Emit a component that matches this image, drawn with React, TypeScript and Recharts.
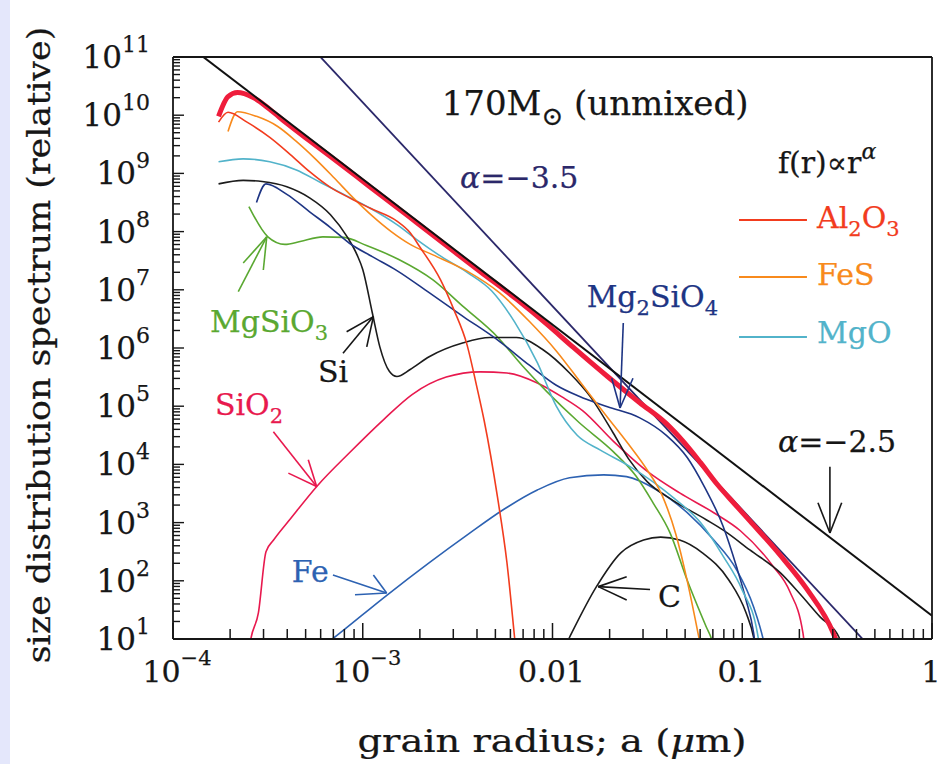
import React from 'react'
import { LineChart, Line, XAxis, YAxis, ReferenceLine, ReferenceDot } from 'recharts'

type Pt = [number, number]

// every point is [log10 a (µm), log10 f]
const totalDust: Pt[] = [
  [-3.76, 9.98], [-3.71, 10.32], [-3.66, 10.39], [-3.58, 10.31], [-3.49, 10.10], [-3.40, 9.86],
  [-3.28, 9.56], [-3.17, 9.29], [-3.03, 8.94], [-2.89, 8.59], [-2.75, 8.24], [-2.65, 7.99],
  [-2.52, 7.66], [-2.38, 7.31], [-2.19, 6.84], [-2.03, 6.41], [-1.89, 6.01], [-1.71, 5.51],
  [-1.54, 5.06], [-1.40, 4.70], [-1.31, 4.39], [-1.22, 4.03], [-1.13, 3.65], [-1.04, 3.32],
  [-0.96, 3.03], [-0.80, 2.44], [-0.66, 1.86], [-0.52, 1.10], [-0.49, 0.85],
]
const al2o3: Pt[] = [
  [-3.76, 9.88], [-3.71, 10.05], [-3.61, 9.88], [-3.49, 9.62], [-3.38, 9.32], [-3.28, 9.03],
  [-3.17, 8.76], [-3.07, 8.58], [-2.96, 8.40], [-2.82, 8.18], [-2.75, 7.98], [-2.70, 7.74],
  [-2.59, 7.17], [-2.52, 6.66], [-2.45, 6.05], [-2.40, 5.35], [-2.36, 4.75], [-2.29, 3.44],
  [-2.24, 2.31], [-2.20, 1.03], [-2.193, 0.80],
]
const fes: Pt[] = [
  [-3.71, 9.72], [-3.66, 10.06], [-3.56, 9.98], [-3.45, 9.81], [-3.35, 9.55], [-3.25, 9.25],
  [-3.15, 8.92], [-3.05, 8.58], [-2.95, 8.27], [-2.85, 8.00], [-2.75, 7.78], [-2.63, 7.60],
  [-2.45, 7.32], [-2.28, 6.95], [-2.12, 6.45], [-1.98, 5.95], [-1.85, 5.40], [-1.72, 4.85],
  [-1.60, 4.35], [-1.50, 3.90], [-1.42, 3.45], [-1.35, 2.80], [-1.29, 2.00], [-1.23, 1.05],
  [-1.215, 0.80],
]
const mgo: Pt[] = [
  [-3.76, 9.20], [-3.63, 9.25], [-3.49, 9.20], [-3.35, 9.06], [-3.22, 8.84], [-3.10, 8.64],
  [-2.96, 8.40], [-2.82, 8.12], [-2.71, 7.85], [-2.60, 7.60], [-2.45, 7.30], [-2.32, 6.98],
  [-2.20, 6.45], [-2.08, 5.75], [-1.98, 5.00], [-1.87, 4.50], [-1.75, 4.25], [-1.60, 3.98],
  [-1.47, 3.70], [-1.36, 3.42], [-1.22, 3.00], [-1.10, 2.42], [-1.00, 1.84], [-0.92, 1.10],
  [-0.905, 0.80],
]
const si: Pt[] = [
  [-3.76, 8.82], [-3.63, 8.88], [-3.53, 8.86], [-3.40, 8.77], [-3.28, 8.58], [-3.17, 8.29],
  [-3.08, 7.90], [-3.03, 7.60], [-3.00, 7.35], [-2.95, 6.61], [-2.91, 6.02], [-2.86, 5.60],
  [-2.82, 5.51], [-2.75, 5.63], [-2.65, 5.85], [-2.47, 6.09], [-2.33, 6.18], [-2.19, 6.18],
  [-2.05, 5.97], [-1.91, 5.57], [-1.80, 5.16], [-1.68, 4.54], [-1.60, 4.10], [-1.50, 3.70],
  [-1.37, 3.39], [-1.19, 3.05], [-1.10, 2.87], [-0.96, 2.53], [-0.80, 2.14], [-0.70, 1.79],
  [-0.59, 1.38], [-0.49, 1.03], [-0.47, 0.85],
]
const mg2sio4: Pt[] = [
  [-3.56, 8.50], [-3.51, 8.82], [-3.40, 8.64], [-3.28, 8.34], [-3.17, 8.07], [-3.07, 7.80],
  [-2.95, 7.57], [-2.82, 7.33], [-2.65, 6.95], [-2.47, 6.54], [-2.29, 6.14], [-2.12, 5.70],
  [-1.98, 5.36], [-1.86, 5.17], [-1.71, 4.99], [-1.54, 4.80], [-1.40, 4.50], [-1.29, 4.12],
  [-1.20, 3.62], [-1.10, 2.93], [-1.03, 2.24], [-0.98, 1.67], [-0.94, 1.10], [-0.93, 0.85],
]
const mgsio3: Pt[] = [
  [-3.60, 8.43], [-3.50, 7.91], [-3.41, 7.78], [-3.33, 7.83], [-3.21, 7.91], [-3.10, 7.90],
  [-2.98, 7.76], [-2.81, 7.52], [-2.63, 7.17], [-2.47, 6.71], [-2.29, 6.19], [-2.16, 5.70],
  [-2.03, 5.25], [-1.86, 4.72], [-1.68, 4.22], [-1.56, 3.80], [-1.47, 3.34], [-1.38, 2.82],
  [-1.29, 2.01], [-1.19, 1.21], [-1.16, 0.98], [-1.15, 0.85],
]
const sio2: Pt[] = [
  [-3.60, 0.80], [-3.59, 1.00], [-3.55, 1.45], [-3.51, 2.50], [-3.47, 2.70], [-3.38, 3.07],
  [-3.24, 3.63], [-3.07, 4.20], [-2.89, 4.77], [-2.74, 5.20], [-2.56, 5.50], [-2.38, 5.59],
  [-2.24, 5.57], [-2.08, 5.40], [-1.95, 5.16], [-1.84, 4.92], [-1.68, 4.40], [-1.50, 3.88],
  [-1.33, 3.51], [-1.15, 3.17], [-1.01, 2.86], [-0.84, 2.26], [-0.75, 1.82], [-0.68, 1.10],
  [-0.67, 0.85],
]
const fe: Pt[] = [
  [-3.24, 0.80], [-3.16, 1.00], [-2.87, 1.76], [-2.44, 2.81], [-2.26, 3.22], [-2.08, 3.56],
  [-1.91, 3.77], [-1.73, 3.82], [-1.61, 3.79], [-1.45, 3.56], [-1.29, 3.17], [-1.15, 2.70],
  [-1.03, 2.19], [-0.94, 1.55], [-0.89, 1.00], [-0.88, 0.85],
]
const carbon: Pt[] = [
  [-1.945, 0.80], [-1.91, 1.03], [-1.77, 1.89], [-1.64, 2.48], [-1.52, 2.70], [-1.43, 2.75],
  [-1.33, 2.70], [-1.21, 2.48], [-1.07, 2.01], [-0.98, 1.45], [-0.94, 1.03], [-0.93, 0.85],
]
const slope35: Pt[] = [[-3.3, 11.27], [-0.3, 0.77]]
const slope25: Pt[] = [[-4, 11.4], [0, 1.4]]

const xDecades = [-4, -3, -2, -1, 0]
const xTickText = [['10', '−4'], ['10', '−3'], ['0.01', ''], ['0.1', ''], ['1', '']]
const yDecades = [1, 2, 3, 4, 5, 6, 7, 8, 9, 10, 11]
const yTickExp = ['1', '2', '3', '4', '5', '6', '7', '8', '9', '10', '11']
const minorSteps = [2, 3, 4, 5, 6, 7, 8, 9]

const FONT = '"DejaVu Serif", "Liberation Serif", serif'
const INK = '#161616'

const C = {
  total: '#ef1d3c',
  al2o3: '#f23c1e',
  fes: '#f88a1c',
  mgo: '#52b3ca',
  si: '#1c1c1c',
  mg2sio4: '#1e3584',
  mgsio3: '#5aa831',
  sio2: '#e8194e',
  fe: '#2d62b2',
  carbon: '#1c1c1c',
  slope35: '#2b286a',
  slope25: '#111111',
}

const rows = (pts: Pt[]) => pts.map(([x, y]) => ({ x, y }))

const withMinors = (decades: number[]) =>
  [
    ...decades,
    ...decades.slice(0, -1).flatMap(d => minorSteps.map(k => d + Math.log10(k))),
  ].sort((a, b) => a - b)

const xTicks = withMinors(xDecades)
const yTicks = withMinors(yDecades)
const isMajor = (v: number) => Math.abs(v - Math.round(v)) < 1e-6

function Txt({ x, y, size = 30, fill = INK, anchor = 'start', sx = 1, rotate = 0, children }: any) {
  return (
    <g transform={`translate(${x},${y}) rotate(${rotate}) scale(${sx},1)`}>
      <text x={0} y={0} fontFamily={FONT} fontSize={size} fill={fill} textAnchor={anchor}
        stroke={fill} strokeWidth={0.25}>
        {children}
      </text>
    </g>
  )
}

const Sub = ({ children, d = 8, size = 21 }: any) => <tspan dy={d} fontSize={size}>{children}</tspan>
const Up = ({ children, d = 8 }: any) => <tspan dy={-d}>{children}</tspan>

function BottomTick({ x, y, payload }: any) {
  const v = payload.value
  const major = isMajor(v)
  const lab = major ? xTickText[xDecades.indexOf(Math.round(v))] : null
  return (
    <g>
      <line x1={x} x2={x} y1={y} y2={y - (major ? 16 : 10)} stroke={INK} strokeWidth={1.5} />
      {lab && (
        <Txt x={x + (lab[1] ? 4 : -1)} y={y + 43} size={30} anchor="middle">
          {lab[0]}
          {lab[1] && <tspan dy={-17} fontSize={21}>{lab[1]}</tspan>}
        </Txt>
      )}
    </g>
  )
}

function TopTick({ x, y, payload }: any) {
  const major = isMajor(payload.value)
  return <line x1={x} x2={x} y1={y} y2={y + (major ? 14 : 8)} stroke={INK} strokeWidth={1.5} />
}

function LeftTick({ x, y, payload }: any) {
  const v = payload.value
  const major = isMajor(v)
  const exp = major ? yTickExp[yDecades.indexOf(Math.round(v))] : null
  return (
    <g>
      <line x1={x} x2={x + (major ? 11 : 7)} y1={y} y2={y} stroke={INK} strokeWidth={1.4} />
      {exp && (
        <Txt x={x - 23} y={y + 11} size={31} anchor="end">
          10<tspan dy={-16} fontSize={22}>{exp}</tspan>
        </Txt>
      )}
    </g>
  )
}

function RightTick({ x, y, payload }: any) {
  const major = isMajor(payload.value)
  return <line x1={x} x2={x - (major ? 16 : 9)} y1={y} y2={y} stroke={INK} strokeWidth={1.4} />
}

const series = [
  { key: 'sio2', data: sio2, color: C.sio2, width: 1.6 },
  { key: 'fe', data: fe, color: C.fe, width: 1.6 },
  { key: 'carbon', data: carbon, color: C.carbon, width: 1.6 },
  { key: 'mgsio3', data: mgsio3, color: C.mgsio3, width: 1.6 },
  { key: 'si', data: si, color: C.si, width: 1.6 },
  { key: 'mg2sio4', data: mg2sio4, color: C.mg2sio4, width: 1.6 },
  { key: 'mgo', data: mgo, color: C.mgo, width: 1.6 },
  { key: 'fes', data: fes, color: C.fes, width: 1.6 },
  { key: 'al2o3', data: al2o3, color: C.al2o3, width: 1.6 },
]

// annotation arrows: shaft from -> tip, two barbs meeting at the tip
const arrows = [
  { color: C.mgsio3, from: [-3.656, 6.97], tip: [-3.506, 7.91], barbs: [[-3.63, 7.46], [-3.524, 7.34]] },
  { color: INK, from: [-3.104, 5.91], tip: [-2.944, 6.54], barbs: [[-3.085, 6.28], [-2.979, 6.02]] },
  { color: C.sio2, from: [-3.471, 4.56], tip: [-3.243, 3.62], barbs: [[-3.392, 3.85], [-3.287, 4.08]] },
  { color: C.fe, from: [-3.157, 2.1], tip: [-2.874, 1.79], barbs: [[-3.041, 1.76], [-2.944, 2.1]] },
  { color: INK, from: [-1.486, 1.85], tip: [-1.759, 1.9], barbs: [[-1.609, 2.07], [-1.609, 1.67]] },
  { color: C.mg2sio4, from: [-1.627, 6.43], tip: [-1.644, 4.97], barbs: [[-1.688, 5.48], [-1.576, 5.48]] },
  { color: INK, from: [-0.538, 3.96], tip: [-0.538, 2.82], barbs: [[-0.601, 3.34], [-0.476, 3.34]] },
]

const legendRows = [
  { y: 8.2, color: C.al2o3 },
  { y: 7.22, color: C.fes },
  { y: 6.19, color: C.mgo },
]

const seg = (a: number[], b: number[]) => [{ x: a[0], y: a[1] }, { x: b[0], y: b[1] }]

function note(key: string, x: number, y: number, content: (cx: number, cy: number) => React.ReactNode) {
  return (
    <ReferenceDot key={key} x={x} y={y} r={0} ifOverflow="visible"
      shape={(p: any) => <g>{content(p.cx, p.cy)}</g>} />
  )
}

const axisLine = { stroke: INK, strokeWidth: 1.8 }

export default function App() {
  return (
    <div style={{ position: 'absolute', left: 0, top: 0, width: 940, height: 764, background: '#fff' }}>
      <div style={{ position: 'absolute', left: 0, top: 0, width: 10, height: 764, background: '#e4e7fb' }} />
      <div style={{ position: 'absolute', left: 0, top: 0 }}>
        <LineChart width={940} height={764} margin={{ top: 56, right: 7, bottom: 124, left: 172 }}>
          <XAxis type="number" dataKey="x" domain={[-4, 0]} ticks={xTicks} interval={0} allowDataOverflow
            height={1} tickSize={0} tickMargin={0} tickLine={false}
            axisLine={axisLine} tick={(p: any) => <BottomTick {...p} />} />
          <XAxis xAxisId="top" orientation="top" type="number" domain={[-4, 0]} ticks={xTicks} interval={0}
            height={1} tickSize={0} tickMargin={0} tickLine={false}
            axisLine={axisLine} tick={(p: any) => <TopTick {...p} />} />
          <YAxis type="number" domain={[1, 11]} ticks={yTicks} interval={0} allowDataOverflow
            width={1} tickSize={0} tickMargin={0} tickLine={false}
            axisLine={axisLine} tick={(p: any) => <LeftTick {...p} />} />
          <YAxis yAxisId="right" orientation="right" type="number" domain={[1, 11]} ticks={yTicks} interval={0}
            width={1} tickSize={0} tickMargin={0} tickLine={false}
            axisLine={axisLine} tick={(p: any) => <RightTick {...p} />} />

          {series.map(s => (
            <Line key={s.key} data={rows(s.data)} dataKey="y" type="monotone" stroke={s.color}
              strokeWidth={s.width} dot={false} activeDot={false} isAnimationActive={false} />
          ))}
          <Line data={rows(slope35)} dataKey="y" type="linear" stroke={C.slope35} strokeWidth={1.8}
            dot={false} activeDot={false} isAnimationActive={false} />
          <Line data={rows(totalDust)} dataKey="y" type="monotone" stroke={C.total} strokeWidth={5}
            dot={false} activeDot={false} isAnimationActive={false} />
          <Line data={rows(slope25)} dataKey="y" type="linear" stroke={C.slope25} strokeWidth={2}
            dot={false} activeDot={false} isAnimationActive={false} />

          {arrows.flatMap((a, i) => [
            <ReferenceLine key={`s${i}`} segment={seg(a.from, a.tip)} stroke={a.color} strokeWidth={1.6} ifOverflow="visible" />,
            <ReferenceLine key={`b${i}a`} segment={seg(a.barbs[0], a.tip)} stroke={a.color} strokeWidth={1.6} ifOverflow="visible" />,
            <ReferenceLine key={`b${i}b`} segment={seg(a.barbs[1], a.tip)} stroke={a.color} strokeWidth={1.6} ifOverflow="visible" />,
          ])}
          {legendRows.map((r, i) => (
            <ReferenceLine key={`l${i}`} segment={[{ x: -1.017, y: r.y }, { x: -0.659, y: r.y }]}
              stroke={r.color} strokeWidth={2} ifOverflow="visible" />
          ))}

          {note('title', -2.584, 10.0, (x, y) => (
            <Txt x={x} y={y} size={34}>170M<Sub d={10} size={26}>⊙</Sub><Up d={10}> (unmixed)</Up></Txt>
          ))}
          {note('a35', -2.487, 8.75, (x, y) => (
            <Txt x={x} y={y} size={30} fill={C.slope35}><tspan fontStyle="italic">α</tspan>=−3.5</Txt>
          ))}
          {note('a25', -0.812, 4.22, (x, y) => (
            <Txt x={x} y={y} size={30}><tspan fontStyle="italic">α</tspan>=−2.5</Txt>
          ))}
          {note('mg2', -1.82, 6.71, (x, y) => (
            <Txt x={x} y={y} size={30} fill={C.mg2sio4}>Mg<Sub>2</Sub><Up>SiO</Up><Sub>4</Sub></Txt>
          ))}
          {note('mgsio3', -3.805, 6.28, (x, y) => (
            <Txt x={x} y={y} size={30} fill={C.mgsio3}>MgSiO<Sub>3</Sub></Txt>
          ))}
          {note('si', -3.236, 5.42, (x, y) => <Txt x={x} y={y} size={30}>Si</Txt>)}
          {note('sio2', -3.779, 4.85, (x, y) => (
            <Txt x={x} y={y} size={30} fill={C.sio2}>SiO<Sub>2</Sub></Txt>
          ))}
          {note('fe', -3.374, 1.98, (x, y) => <Txt x={x} y={y} size={30} fill={C.fe}>Fe</Txt>)}
          {note('c', -1.444, 1.555, (x, y) => <Txt x={x} y={y} size={30}>C</Txt>)}
          {note('law', -0.812, 9.01, (x, y) => (
            <Txt x={x} y={y} size={30}>f(r)∝r<tspan dy={-14} fontSize={22} fontStyle="italic">α</tspan></Txt>
          ))}
          {note('lg1', -0.606, 8.06, (x, y) => (
            <Txt x={x} y={y} size={30} fill={C.al2o3}>Al<Sub>2</Sub><Up>O</Up><Sub>3</Sub></Txt>
          ))}
          {note('lg2', -0.606, 7.08, (x, y) => <Txt x={x} y={y} size={30} fill={C.fes}>FeS</Txt>)}
          {note('lg3', -0.606, 6.09, (x, y) => <Txt x={x} y={y} size={30} fill={C.mgo}>MgO</Txt>)}
        </LineChart>
      </div>
      <svg width={940} height={764} style={{ position: 'absolute', left: 0, top: 0, pointerEvents: 'none' }}>
        <Txt x={50} y={345} size={32} sx={1.09} anchor="middle" rotate={-90}>
          size distribution spectrum (relative)
        </Txt>
        <Txt x={552} y={752} size={32} sx={1.2} anchor="middle">
          grain radius; a (<tspan fontStyle="italic">μ</tspan>m)
        </Txt>
      </svg>
    </div>
  )
}
